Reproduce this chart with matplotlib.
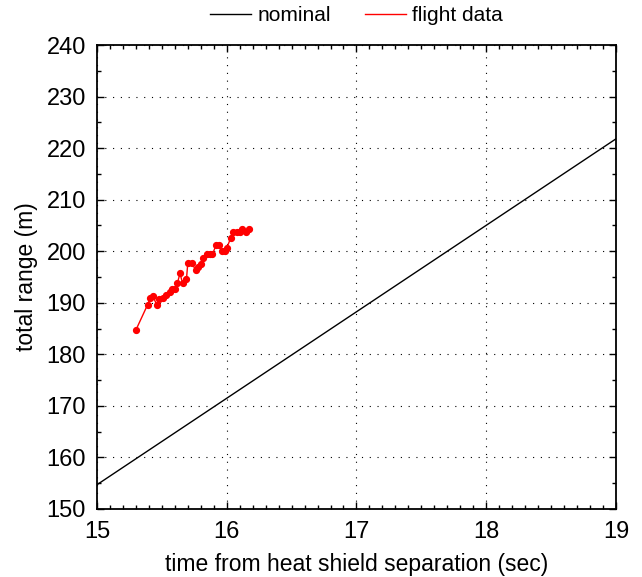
import matplotlib
matplotlib.use("Agg")
import matplotlib.pyplot as plt
from matplotlib.ticker import MultipleLocator

plt.rcParams['font.family'] = ['Liberation Sans', 'DejaVu Sans']

nominal_t = [15.0, 19.0]
nominal_range = [154.7, 221.8]

flight_t = [15.30, 15.39, 15.41, 15.43, 15.46, 15.48, 15.51, 15.53, 15.56, 15.58,
            15.60, 15.62, 15.64, 15.66, 15.69, 15.70, 15.73, 15.76, 15.78, 15.80,
            15.82, 15.85, 15.87, 15.89, 15.92, 15.94, 15.96, 15.99, 16.00, 16.03,
            16.05, 16.08, 16.10, 16.12, 16.15, 16.17]
flight_range = [184.7, 189.6, 190.9, 191.4, 189.6, 190.7, 190.9, 191.5, 192.0, 192.7,
                192.7, 193.8, 195.7, 193.8, 194.6, 197.7, 197.7, 196.4, 197.0, 197.5,
                198.7, 199.4, 199.4, 199.4, 201.3, 201.3, 200.0, 200.0, 200.6, 202.5,
                203.8, 203.8, 203.8, 204.4, 203.8, 204.4]

fig = plt.figure(figsize=(6.42, 5.77), dpi=100)
ax = fig.add_axes([0.151, 0.1179, 0.8085, 0.8041])

ax.plot(nominal_t, nominal_range, color='black', lw=1.0, label='nominal')
ax.plot(flight_t, flight_range, color='red', lw=1.0, label='flight data')
ax.plot(flight_t, flight_range, color='red', lw=0, marker='o', markersize=4.2)

ax.set_xlim(15, 19)
ax.set_ylim(150, 240)
ax.xaxis.set_major_locator(MultipleLocator(1))
ax.xaxis.set_minor_locator(MultipleLocator(0.1))
ax.yaxis.set_major_locator(MultipleLocator(10))
ax.yaxis.set_minor_locator(MultipleLocator(5))
ax.tick_params(which='both', direction='in', top=True, right=True, labelsize=17, width=1)
ax.tick_params(which='major', length=5)
ax.tick_params(which='minor', length=3)
ax.tick_params(axis='x', which='major', pad=9)
ax.tick_params(axis='y', which='major', pad=8)
for s in ax.spines.values():
    s.set_linewidth(1.3)
ax.grid(True, which='major', color='black', linestyle=(0, (1, 6)), lw=0.8)

ax.set_xlabel('time from heat shield separation (sec)', fontsize=16.5, labelpad=7)
ax.set_ylabel('total range (m)', fontsize=16.5, labelpad=6)

ax.legend(loc='lower center', bbox_to_anchor=(0.5, 1.02), ncol=2, frameon=False,
          fontsize=15, handlelength=2.0, handletextpad=0.3, columnspacing=1.6,
          borderaxespad=0.1)

fig.savefig('out.png', dpi=100)
